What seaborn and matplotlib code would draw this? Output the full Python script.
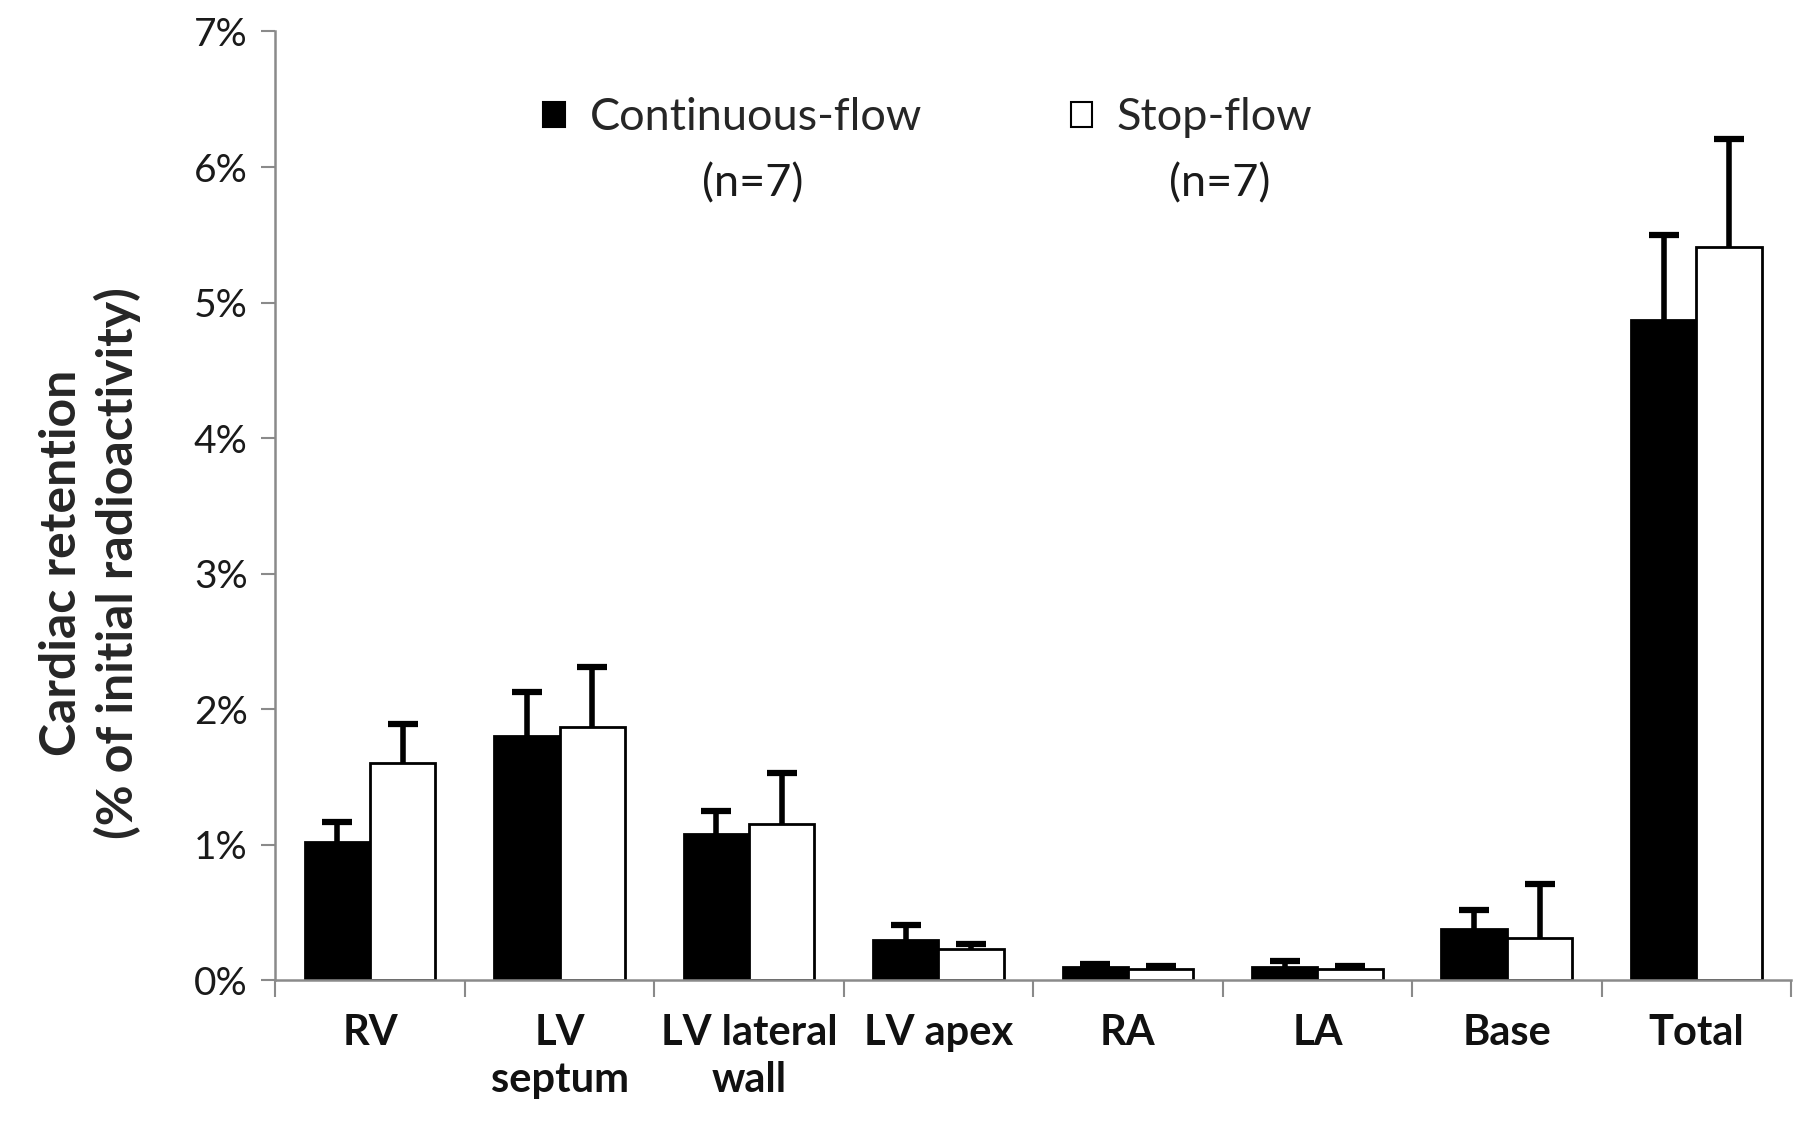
import matplotlib
matplotlib.use("Agg")
import matplotlib.pyplot as plt
import seaborn as sns
import pandas as pd
import numpy as np
from matplotlib.ticker import FixedLocator, FuncFormatter
from matplotlib.patches import Patch

categories = ["RV", "LV\nseptum", "LV lateral\nwall", "LV apex", "RA", "LA", "Base", "Total"]
series = ["Continuous-flow", "Stop-flow"]
continuous_mean = [1.02, 1.80, 1.08, 0.30, 0.10, 0.10, 0.38, 4.87]
continuous_err = [0.15, 0.33, 0.17, 0.11, 0.02, 0.04, 0.14, 0.63]
stop_mean = [1.60, 1.87, 1.15, 0.23, 0.085, 0.085, 0.31, 5.41]
stop_err = [0.29, 0.44, 0.38, 0.04, 0.02, 0.02, 0.40, 0.80]
y_ticks = [0, 1, 2, 3, 4, 5, 6, 7]
legend_note = "(n=7)"
ylabel = "Cardiac retention\n(% of initial radioactivity)"

sns.set_theme(style="white")
plt.rcParams["font.family"] = ["Lato", "DejaVu Sans"]

df = pd.DataFrame({
    "region": categories * 2,
    "series": [series[0]] * len(categories) + [series[1]] * len(categories),
    "value": continuous_mean + stop_mean,
})
errs = [continuous_err, stop_err]
means = [continuous_mean, stop_mean]

fig = plt.figure(figsize=(18, 11.23), dpi=100)
ax = fig.add_axes([0.153, 0.127, 0.842, 0.845])

sns.barplot(data=df, x="region", y="value", hue="series", order=categories,
            hue_order=series, palette={series[0]: "black", series[1]: "white"},
            edgecolor="black", linewidth=2, width=0.69, errorbar=None,
            legend=False, ax=ax, zorder=2)

for cont, m, e in zip(ax.containers, means, errs):
    xs = [p.get_x() + p.get_width() / 2 for p in cont]
    eb = ax.errorbar(xs, m, yerr=[np.zeros(len(e)), e], fmt="none", ecolor="black",
                     elinewidth=4, capsize=11, capthick=4.5, zorder=3)
    caplines = eb[1]
    if len(caplines) == 2:
        caplines[0].set_visible(False)

ax.set_xlim(-0.5, len(categories) - 0.5)
ax.set_ylim(0, 7)
ax.yaxis.set_major_locator(FixedLocator(y_ticks))
ax.yaxis.set_major_formatter(FuncFormatter(lambda v, p: f"{int(round(v))}%"))
ax.tick_params(axis="y", which="major", length=10, width=1.5, color="#8a8a8a",
               labelsize=28, labelcolor="#1a1a1a", pad=10, left=True)
ax.set_xticks(range(len(categories)))
ax.set_xticklabels(categories, fontweight="bold", fontsize=30, linespacing=1.3)
ax.tick_params(axis="x", which="major", length=0, pad=24, labelcolor="#111111")
ax.xaxis.set_minor_locator(FixedLocator(np.arange(-0.5, len(categories), 1.0)))
ax.tick_params(axis="x", which="minor", length=12, width=1.5, color="#8a8a8a",
               bottom=True, direction="out")

for s in ["top", "right"]:
    ax.spines[s].set_visible(False)
for s in ["left", "bottom"]:
    ax.spines[s].set_color("#8a8a8a")
    ax.spines[s].set_linewidth(1.8)
ax.set_xlabel("")
ax.set_ylabel(ylabel, fontsize=36, fontweight="bold", linespacing=1.25)
ax.yaxis.set_label_coords(-0.089, 0.44)

handles = [Patch(facecolor="black", edgecolor="black", linewidth=1.5),
           Patch(facecolor="white", edgecolor="black", linewidth=1.5)]
ax.legend(handles, series, loc="center left", bbox_to_anchor=(0.15, 0.909),
          ncol=2, frameon=False, fontsize=32.5, handlelength=0.47, handleheight=0.47,
          handletextpad=0.55, columnspacing=3.3)
ax.text(0.315, 0.839, legend_note, transform=ax.transAxes, ha="center", va="center",
        fontsize=32.5, color="#1a1a1a")
ax.text(0.623, 0.839, legend_note, transform=ax.transAxes, ha="center", va="center",
        fontsize=32.5, color="#1a1a1a")

fig.savefig("out.png", dpi=100)
